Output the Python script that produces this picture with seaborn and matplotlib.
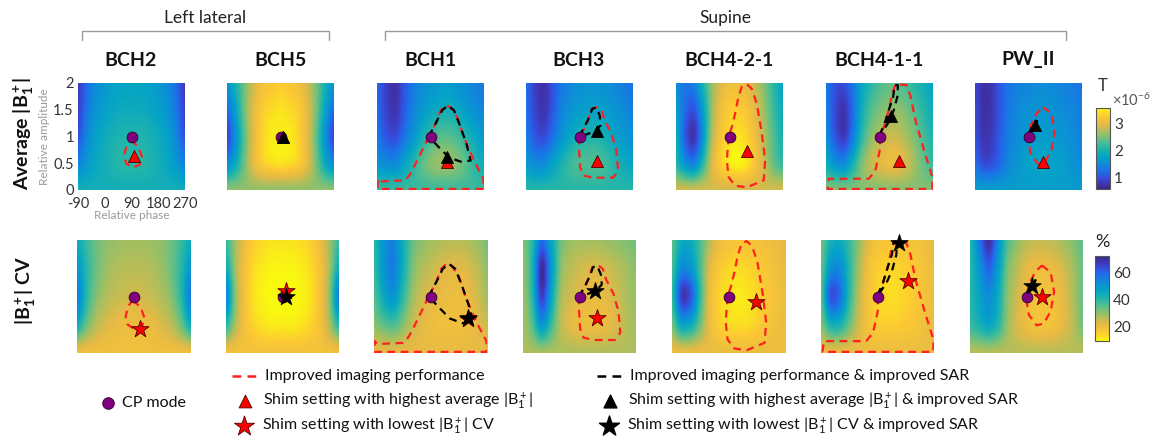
import numpy as np
import matplotlib
matplotlib.use("Agg")
import matplotlib.pyplot as plt
import seaborn as sns
from matplotlib.colors import LinearSegmentedColormap, Normalize
from matplotlib.cm import ScalarMappable

# shim grid (relative phase in deg, relative amplitude)
phase = [-90, -60, -30, 0, 30, 60, 90, 120, 150, 180, 210, 240, 270]
amp = [0, 0.5, 1.0, 1.5, 2.0]

coils = ["BCH2", "BCH5", "BCH1", "BCH3", "BCH4-2-1", "BCH4-1-1", "PW_II"]

# average |B1+| (x1e-6 T), rows go amp 0 -> 2
b1_bch2 = [[1.95] * 13,
           [1.4, 1.65, 1.85, 1.95, 2.05, 2.1, 2.1, 2.1, 2.05, 1.95, 1.85, 1.65, 1.4],
           [1.0, 1.45, 1.75, 1.9, 2.0, 2.05, 2.05, 2.05, 2.0, 1.9, 1.75, 1.45, 1.0],
           [0.85, 1.3, 1.6, 1.75, 1.85, 1.9, 1.9, 1.9, 1.85, 1.75, 1.6, 1.3, 0.85],
           [0.8, 1.2, 1.5, 1.65, 1.75, 1.8, 1.8, 1.8, 1.75, 1.65, 1.5, 1.2, 0.8]]
b1_bch5 = [[2.6] * 13,
           [1.5, 1.9, 2.5, 3.0, 3.3, 3.4, 3.45, 3.4, 3.3, 3.0, 2.5, 1.9, 1.5],
           [0.9, 1.6, 2.4, 3.0, 3.35, 3.5, 3.5, 3.5, 3.35, 3.0, 2.4, 1.6, 0.9],
           [1.2, 1.8, 2.5, 3.0, 3.3, 3.4, 3.45, 3.4, 3.3, 3.0, 2.5, 1.8, 1.2],
           [1.6, 2.0, 2.5, 2.9, 3.15, 3.25, 3.3, 3.25, 3.15, 2.9, 2.5, 2.0, 1.6]]
b1_bch1 = [[2.2] * 13,
           [1.6, 1.5, 1.5, 1.75, 2.05, 2.35, 2.55, 2.65, 2.65, 2.55, 2.35, 2.1, 1.9],
           [1.3, 1.05, 0.95, 1.25, 1.6, 1.95, 2.2, 2.35, 2.35, 2.25, 2.05, 1.85, 1.65],
           [1.2, 0.9, 0.75, 1.05, 1.4, 1.65, 1.8, 1.9, 1.95, 1.85, 1.7, 1.55, 1.45],
           [1.15, 0.85, 0.7, 1.0, 1.3, 1.5, 1.6, 1.7, 1.7, 1.6, 1.5, 1.4, 1.3]]
b1_bch3 = [[2.1] * 13,
           [1.65, 1.5, 1.5, 1.75, 2.0, 2.2, 2.3, 2.3, 2.3, 2.2, 2.05, 1.9, 1.8],
           [1.35, 1.05, 0.95, 1.25, 1.6, 1.85, 2.0, 2.05, 2.05, 1.95, 1.8, 1.65, 1.55],
           [1.25, 0.9, 0.75, 1.05, 1.4, 1.6, 1.7, 1.75, 1.75, 1.7, 1.6, 1.5, 1.4],
           [1.2, 0.85, 0.72, 1.0, 1.3, 1.45, 1.55, 1.6, 1.6, 1.55, 1.45, 1.35, 1.25]]
b1_bch421 = [[2.9] * 13,
             [2.1, 1.6, 1.4, 2.1, 2.9, 3.3, 3.5, 3.55, 3.45, 3.15, 2.8, 2.4, 2.2],
             [1.9, 1.1, 0.75, 1.6, 2.7, 3.2, 3.4, 3.45, 3.35, 3.05, 2.7, 2.3, 2.0],
             [1.7, 1.2, 1.0, 1.7, 2.6, 3.1, 3.3, 3.3, 3.2, 2.95, 2.6, 2.2, 1.9],
             [1.5, 1.3, 1.4, 2.0, 2.6, 2.95, 3.1, 3.1, 3.0, 2.8, 2.5, 2.1, 1.8]]
b1_bch411 = [[2.55] * 13,
             [1.9, 1.6, 1.5, 1.95, 2.5, 2.8, 2.95, 3.05, 3.05, 2.9, 2.65, 2.4, 2.2],
             [1.5, 1.05, 0.8, 1.35, 2.1, 2.55, 2.75, 2.85, 2.85, 2.7, 2.5, 2.25, 2.05],
             [1.35, 0.95, 0.75, 1.2, 1.9, 2.3, 2.5, 2.6, 2.6, 2.5, 2.3, 2.1, 1.9],
             [1.3, 1.0, 0.95, 1.3, 1.8, 2.1, 2.3, 2.4, 2.35, 2.25, 2.1, 1.95, 1.8]]
b1_pw = [[1.7] * 13,
         [1.2, 0.95, 1.0, 1.25, 1.5, 1.65, 1.75, 1.8, 1.8, 1.75, 1.7, 1.6, 1.5],
         [1.0, 0.75, 0.85, 1.15, 1.4, 1.55, 1.65, 1.7, 1.7, 1.65, 1.6, 1.5, 1.4],
         [0.95, 0.7, 0.8, 1.1, 1.35, 1.5, 1.55, 1.6, 1.6, 1.55, 1.5, 1.45, 1.35],
         [0.9, 0.7, 0.8, 1.1, 1.3, 1.4, 1.45, 1.5, 1.5, 1.45, 1.4, 1.35, 1.25]]

# |B1+| CV (%), rows go amp 0 -> 2
cv_bch2 = [[19] * 13,
           [44, 33, 26, 23, 21, 20, 20, 20, 21, 23, 26, 33, 44],
           [56, 40, 31, 27, 25, 24, 23, 24, 25, 27, 31, 40, 56],
           [50, 40, 33, 29, 27, 26, 26, 26, 27, 29, 33, 40, 50],
           [44, 38, 33, 30, 29, 28, 28, 28, 29, 30, 33, 38, 44]]
cv_bch5 = [[18] * 13,
           [40, 27, 18, 14, 12, 11, 11, 11, 12, 14, 18, 27, 40],
           [55, 30, 18, 12, 10, 9, 9, 9, 10, 12, 18, 30, 55],
           [44, 28, 18, 13, 11, 10, 10, 10, 11, 13, 18, 28, 44],
           [38, 28, 20, 15, 13, 12, 12, 12, 13, 15, 20, 28, 38]]
cv_bch1 = [[21] * 13,
           [30, 34, 36, 31, 25, 22, 20, 19, 19, 19, 20, 22, 24],
           [35, 45, 50, 40, 29, 24, 22, 21, 20, 20, 21, 24, 28],
           [38, 50, 55, 44, 32, 27, 25, 23, 22, 22, 23, 26, 30],
           [40, 50, 54, 44, 34, 30, 28, 27, 26, 26, 27, 29, 32]]
cv_bch3 = [[27] * 13,
           [27, 35, 50, 38, 26, 22, 20, 20, 20, 21, 23, 26, 28],
           [28, 40, 66, 46, 28, 24, 22, 21, 21, 22, 24, 27, 29],
           [29, 42, 70, 50, 31, 26, 24, 23, 23, 24, 26, 28, 30],
           [30, 40, 58, 46, 33, 29, 28, 28, 28, 29, 30, 31, 32]]
cv_bch421 = [[20] * 13,
             [32, 46, 44, 32, 20, 15, 13, 13, 13, 15, 17, 19, 20],
             [38, 66, 62, 38, 20, 14, 12, 11, 12, 14, 16, 18, 20],
             [36, 52, 50, 36, 22, 16, 14, 13, 14, 15, 17, 19, 21],
             [34, 44, 44, 36, 26, 20, 18, 17, 17, 18, 19, 20, 22]]
cv_bch411 = [[20] * 13,
             [30, 42, 42, 33, 24, 18, 15, 15, 15, 16, 17, 19, 20],
             [34, 62, 58, 40, 26, 18, 14, 13, 13, 14, 16, 18, 20],
             [33, 50, 52, 40, 28, 19, 15, 14, 14, 15, 16, 18, 20],
             [32, 42, 44, 38, 30, 22, 18, 17, 17, 17, 18, 19, 21]]
cv_pw = [[26] * 13,
         [38, 42, 46, 40, 29, 23, 20, 18, 18, 19, 22, 26, 32],
         [40, 46, 52, 44, 30, 24, 20, 18, 18, 19, 22, 27, 33],
         [40, 50, 60, 48, 32, 26, 22, 20, 20, 21, 24, 28, 33],
         [40, 56, 70, 52, 36, 30, 26, 25, 25, 26, 28, 31, 34]]

# region outlines (phase, amplitude)
red_bch2 = [(88, 0.93), (113, 0.81), (125, 0.62), (117, 0.47), (94, 0.42),
            (72, 0.5), (65, 0.65), (74, 0.84)]
red_bch1 = [(84, 1.0), (67, 0.8), (45, 0.55), (22, 0.3), (6, 0.18), (-79, 0.16),
            (-88, 0.21), (-88, 0.02), (268, 0.02), (268, 0.21), (236, 0.55),
            (202, 0.99), (180, 1.36), (157, 1.55), (141, 1.58), (124, 1.49), (107, 1.24)]
black_bch1 = [(84, 1.0), (107, 1.24), (129, 1.49), (148, 1.58), (169, 1.49),
              (191, 1.18), (211, 0.86), (225, 0.55), (191, 0.53), (152, 0.61), (118, 0.8)]
red_bch3 = [(88, 1.0), (88, 0.8), (92, 0.43), (103, 0.27), (136, 0.23), (203, 0.23),
            (220, 0.36), (214, 0.74), (198, 1.05), (175, 1.3), (164, 1.49),
            (150, 1.55), (131, 1.52), (120, 1.33), (105, 1.14)]
black_bch3 = [(88, 1.0), (103, 1.14), (123, 1.36), (133, 1.52), (147, 1.54),
              (158, 1.39), (161, 1.21), (142, 1.1), (114, 1.04)]
red_bch421 = [(87, 1.0), (81, 0.55), (87, 0.24), (109, 0.08), (148, 0.05), (205, 0.18),
              (210, 0.55), (199, 1.05), (182, 1.61), (165, 1.89), (148, 1.98),
              (132, 1.94), (120, 1.74), (109, 1.43), (98, 1.18)]
red_bch411 = [(88, 1.0), (93, 0.8), (76, 0.36), (54, 0.21), (-81, 0.21), (-85, 0.02),
              (268, 0.02), (268, 0.24), (240, 0.74), (211, 1.3), (195, 1.74),
              (181, 1.96), (144, 1.98), (133, 1.8), (121, 1.49), (105, 1.18)]
black_bch411 = [(90, 1.02), (107, 1.24), (121, 1.49), (136, 1.74), (141, 1.96),
                (152, 1.96), (150, 1.74), (138, 1.49), (121, 1.27), (99, 1.08)]
red_pw = [(139, 1.55), (167, 1.43), (178, 1.08), (167, 0.74), (145, 0.52),
          (122, 0.49), (97, 0.68), (89, 0.96), (97, 1.2), (117, 1.43)]
black_pw = [(89, 1.05), (106, 1.21), (119, 1.29), (111, 1.18), (92, 1.02)]

# CP mode and optimal shim settings
cp_mode = (90, 1.0)
max_b1 = [(97, 0.63), (100, 1.0), (146, 0.52), (150, 0.55), (148, 0.73), (157, 0.54), (139, 0.52)]
max_b1_sar = [None, (100, 1.0), (146, 0.61), (150, 1.11), None, (130, 1.39), (111, 1.21)]
min_cv = [(110, 0.43), (100, 1.1), (210, 0.6), (146, 0.62), (177, 0.91), (188, 1.28), (139, 0.99)]
min_cv_sar = [None, (100, 0.99), (208, 0.62), (139, 1.09), None, (157, 1.94), (109, 1.18)]

b1_maps = [b1_bch2, b1_bch5, b1_bch1, b1_bch3, b1_bch421, b1_bch411, b1_pw]
cv_maps = [cv_bch2, cv_bch5, cv_bch1, cv_bch3, cv_bch421, cv_bch411, cv_pw]
red_regions = [red_bch2, None, red_bch1, red_bch3, red_bch421, red_bch411, red_pw]
black_regions = [None, None, black_bch1, black_bch3, None, black_bch411, black_pw]

sns.set_theme(style="white")
plt.rcParams['font.family'] = ['Lato', 'DejaVu Sans']
plt.rcParams['mathtext.fontset'] = 'custom'
plt.rcParams['mathtext.rm'] = 'Lato'
plt.rcParams['mathtext.bf'] = 'Lato:bold'
plt.rcParams['mathtext.it'] = 'Lato:italic'

# parula-like colormap
parula = LinearSegmentedColormap.from_list("parula", [
    (0.0, (0.208, 0.166, 0.529)), (0.07, (0.25, 0.21, 0.70)),
    (0.14, (0.20, 0.31, 0.87)), (0.22, (0.11, 0.44, 0.91)),
    (0.32, (0.05, 0.56, 0.84)), (0.41, (0.02, 0.645, 0.775)),
    (0.50, (0.13, 0.71, 0.67)), (0.60, (0.36, 0.75, 0.54)),
    (0.70, (0.64, 0.75, 0.38)), (0.80, (0.90, 0.73, 0.27)),
    (0.90, (0.99, 0.79, 0.20)), (1.0, (0.976, 0.983, 0.054))])
b1_norm = Normalize(0.55, 3.6)
cv_norm = Normalize(9, 72)

W, H = 1163, 441
fig = plt.figure(figsize=(W / 100, H / 100), dpi=100)
lay = fig.add_axes([0, 0, 1, 1])
lay.set_xlim(0, W)
lay.set_ylim(H, 0)
lay.axis("off")


def box(x0, y0, w, h):
    return [x0 / W, 1 - (y0 + h) / H, w / W, h / H]


def draw_panel(ax, field, cmap, norm, red, black, pt_red, pt_black, mk, ms):
    dp = phase[1] - phase[0]
    da = amp[1] - amp[0]
    # catrom passes through the grid values (bicubic in agg is a smoothing b-spline)
    ax.imshow(np.array(field, dtype=float), origin="lower", cmap=cmap, norm=norm,
              aspect="auto", interpolation="catrom", interpolation_stage="data",
              extent=[phase[0] - dp / 2, phase[-1] + dp / 2, amp[0] - da / 2, amp[-1] + da / 2])
    for reg, col in [(red, "#ff2020"), (black, "black")]:
        if reg is None:
            continue
        pts = list(reg) + [reg[0]]
        sns.lineplot(x=[p[0] for p in pts], y=[p[1] for p in pts], sort=False,
                     estimator=None, color=col, lw=1.6, linestyle=(0, (3.5, 2.5)),
                     ax=ax, legend=False, zorder=3)
    sns.scatterplot(x=[cp_mode[0]], y=[cp_mode[1]], marker="o", s=60, color="#800080",
                    edgecolor="#2a002a", linewidth=0.6, ax=ax, legend=False, zorder=5)
    if pt_red is not None:
        sns.scatterplot(x=[pt_red[0]], y=[pt_red[1]], marker=mk, s=ms, color="#ff0000",
                        edgecolor="#4a0000", linewidth=0.6, ax=ax, legend=False,
                        zorder=6, clip_on=False)
    if pt_black is not None:
        sns.scatterplot(x=[pt_black[0]], y=[pt_black[1]], marker=mk, s=ms, color="black",
                        edgecolor="black", linewidth=0.6, ax=ax, legend=False,
                        zorder=7, clip_on=False)
    ax.set_xlim(phase[0], phase[-1])
    ax.set_ylim(amp[0], amp[-1])
    ax.set_xlabel("")
    ax.set_ylabel("")
    for s in ax.spines.values():
        s.set_visible(False)
    ax.set_xticks([])
    ax.set_yticks([])


top_x = [78, 227, 377, 526, 676, 826, 975]
bot_x = [77, 226, 374, 523, 672, 821, 970]

for i, name in enumerate(coils):
    ax1 = fig.add_axes(box(top_x[i], 83, 107, 107))
    draw_panel(ax1, b1_maps[i], parula, b1_norm, red_regions[i], black_regions[i],
               max_b1[i], max_b1_sar[i], "^", 75)
    ax2 = fig.add_axes(box(bot_x[i], 240, 113, 113))
    draw_panel(ax2, cv_maps[i], parula.reversed(), cv_norm, red_regions[i], black_regions[i],
               min_cv[i], min_cv_sar[i], "*", 170)
    lay.text(top_x[i] + 53, 60, name, ha="center", va="center", fontsize=14,
             fontweight="bold", color="#111111")
    if i == 0:
        ax1.set_xticks([-90, 0, 90, 180, 270])
        ax1.set_xticklabels(["-90", "0", "90", "180", "270"])
        ax1.set_yticks([0, 0.5, 1, 1.5, 2])
        ax1.set_yticklabels(["0", "0.5", "1", "1.5", "2"])
        ax1.tick_params(axis="y", length=0, labelsize=10.5, colors="#333333", pad=3)
        ax1.tick_params(axis="x", length=0, labelsize=10.5, colors="#333333", pad=5)
        ax1.set_ylabel("Relative amplitude", fontsize=8.5, color="#9a9a9a", labelpad=2)
        ax1.set_xlabel("Relative phase", fontsize=8.5, color="#9a9a9a", labelpad=-1)

# row labels
lay.text(24, 133, r"Average |$\mathbf{B_1^+}$|", rotation=90, ha="center", va="center",
         fontsize=14, fontweight="bold", color="#111111")
lay.text(26, 290, r"|$\mathbf{B_1^+}$| CV", rotation=90, ha="center", va="center",
         fontsize=14, fontweight="bold", color="#111111")

# group brackets
for x0, x1, label in [(82, 329, "Left lateral"), (385, 1066, "Supine")]:
    lay.plot([x0, x0, x1, x1], [40, 31, 31, 40], color="#9a9a9a", lw=1.0)
    lay.text((x0 + x1) / 2, 18, label, ha="center", va="center", fontsize=12.5, color="#222222")

# colorbars
cax1 = fig.add_axes(box(1096, 108, 14, 81))
cb1 = fig.colorbar(ScalarMappable(norm=b1_norm, cmap=parula), cax=cax1, ticks=[1, 2, 3])
cax2 = fig.add_axes(box(1095, 256, 14, 85))
cb2 = fig.colorbar(ScalarMappable(norm=cv_norm, cmap=parula.reversed()), cax=cax2,
                   ticks=[20, 40, 60])
for cb in (cb1, cb2):
    cb.ax.tick_params(labelsize=11, length=0, colors="#333333", pad=3)
    cb.outline.set_linewidth(0.8)
    cb.outline.set_edgecolor("#555555")
lay.text(1103, 86, "T", ha="center", va="center", fontsize=12, color="#333333")
lay.text(1112, 100, r"$\times\mathrm{10^{-6}}$", ha="left", va="center", fontsize=10.5,
         color="#555555")
lay.text(1102, 242, "%", ha="center", va="center", fontsize=13, color="#222222")

# legend
lf = 11.5
lay.scatter([108], [403], marker="o", s=70, color="#800080", edgecolor="#2a002a", lw=0.6)
lay.text(122, 403, "CP mode", va="center", fontsize=lf, color="#111111")
lay.plot([232, 258], [376, 376], color="#ff2020", lw=1.8, linestyle=(0, (3.5, 2.5)))
lay.text(265, 376, "Improved imaging performance", va="center", fontsize=lf, color="#111111")
lay.plot([597, 623], [376, 376], color="black", lw=1.8, linestyle=(0, (3.5, 2.5)))
lay.text(630, 376, "Improved imaging performance & improved SAR", va="center", fontsize=lf,
         color="#111111")
lay.scatter([245], [401], marker="^", s=85, color="#ff0000", edgecolor="#4a0000", lw=0.6)
lay.text(263, 401, r"Shim setting with highest average |$\mathrm{B_1^+}$|", va="center",
         fontsize=lf, color="#111111")
lay.scatter([610], [401], marker="^", s=85, color="black")
lay.text(628, 401, r"Shim setting with highest average |$\mathrm{B_1^+}$| & improved SAR",
         va="center", fontsize=lf, color="#111111")
lay.scatter([244], [426], marker="*", s=230, color="#ff0000", edgecolor="#4a0000", lw=0.6)
lay.text(262, 426, r"Shim setting with lowest |$\mathrm{B_1^+}$| CV", va="center",
         fontsize=lf, color="#111111")
lay.scatter([609], [426], marker="*", s=230, color="black")
lay.text(627, 426, r"Shim setting with lowest |$\mathrm{B_1^+}$| CV & improved SAR",
         va="center", fontsize=lf, color="#111111")
lay.set_xlim(0, W)
lay.set_ylim(H, 0)

fig.savefig("out.png", dpi=100)
